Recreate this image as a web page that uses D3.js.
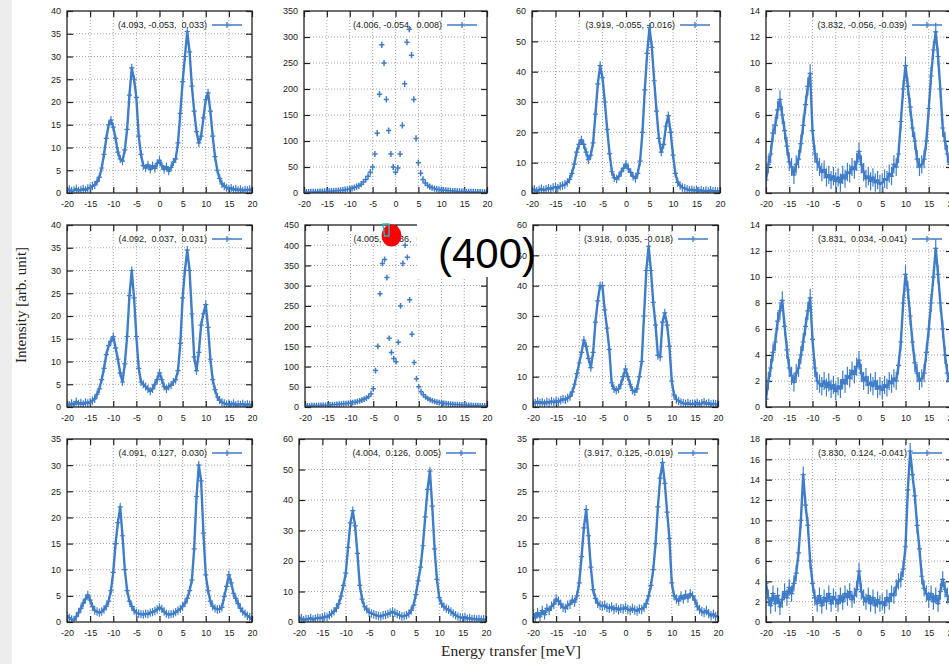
<!DOCTYPE html>
<html>
<head>
<meta charset="utf-8" />
<style>
body {
	margin: 0;
	background: #fff;
}
svg {
	display: block;
}
.tick text {
	font-family: "Liberation Sans", Arial, sans-serif;
	font-size: 9px;
}
.legend-label {
	font-family: "Liberation Sans", Arial, sans-serif;
	font-size: 9px;
	fill: #222;
	white-space: pre;
	text-anchor: end;
}
.axis-title {
	font-family: "Liberation Serif", "Times New Roman", serif;
	font-size: 15px;
	fill: #222;
	text-anchor: middle;
}
.grid line {
	stroke: #8f8f8f;
	stroke-width: 0.8;
	stroke-dasharray: 1,2;
}
</style>
</head>
<body>
<script src="https://d3js.org/d3.v7.min.js"></script>
<script>
// energy transfer grid [meV], shared by every panel
var energy = [-20, -19.5, -19, -18.5, -18, -17.5, -17, -16.5, -16, -15.5,
	-15, -14.5, -14, -13.5, -13, -12.5, -12, -11.5, -11, -10.5,
	-10, -9.5, -9, -8.5, -8, -7.5, -7, -6.5, -6, -5.5,
	-5, -4.5, -4, -3.5, -3, -2.5, -2, -1.5, -1, -0.5,
	0, 0.5, 1, 1.5, 2, 2.5, 3, 3.5, 4, 4.5,
	5, 5.5, 6, 6.5, 7, 7.5, 8, 8.5, 9, 9.5,
	10, 10.5, 11, 11.5, 12, 12.5, 13, 13.5, 14, 14.5,
	15, 15.5, 16, 16.5, 17, 17.5, 18, 18.5, 19, 19.5,
	20];

var xTicks = [-20, -15, -10, -5, 0, 5, 10, 15, 20];

var legends = ["(4.093, -0.053,  0.033)", "(4.006, -0.054,  0.008)", "(3.919, -0.055, -0.016)", "(3.832, -0.056, -0.039)",
	"(4.092,  0.037,  0.031)", "(4.005,  0.036,  0.007)", "(3.918,  0.035, -0.018)", "(3.831,  0.034, -0.041)",
	"(4.091,  0.127,  0.030)", "(4.004,  0.126,  0.005)", "(3.917,  0.125, -0.019)", "(3.830,  0.124, -0.041)"];

var yMax = [40, 350, 60, 14, 40, 450, 60, 14, 35, 60, 35, 18];
var yStep = [5, 50, 10, 2, 5, 50, 10, 2, 5, 10, 5, 2];

// typical error bar half-height
var errBar = [0.9, 6, 1.4, 0.7, 0.9, 7, 1.4, 0.7, 0.8, 1.4, 0.9, 0.8];

var int1 = [0.5, 0.8, 0.4, 0.6, 0.9, 0.5, 0.7, 0.9, 0.6, 1.0,
	1.2, 1.5, 1.8, 2.5, 3.5, 5.5, 8.5, 12.0, 15.0, 16.0,
	14.5, 12.0, 9.0, 7.5, 7.0, 9.5, 14.0, 21.5, 27.5, 25.0,
	21.0, 12.5, 8.5, 6.0, 5.5, 6.2, 5.2, 6.0, 5.4, 6.5,
	7.2, 6.0, 5.2, 5.8, 4.8, 5.6, 6.8, 7.5, 11.0, 17.5,
	24.5, 30.0, 35.5, 31.0, 23.5, 18.0, 13.5, 11.0, 12.5, 16.5,
	20.5, 22.0, 18.0, 12.5, 8.0, 5.0, 3.2, 2.0, 1.5, 1.2,
	0.9, 1.1, 0.7, 0.9, 0.6, 0.8, 0.5, 0.7, 0.6, 0.8,
	0.5];

var int2 = [1.5, 1.9, 1.7, 2.1, 2.0, 2.4, 2.3, 2.7, 2.6, 2.9,
	3.1, 3.2, 3.6, 3.8, 4.3, 4.4, 5.1, 5.4, 6.3, 6.9,
	8.0, 9.1, 10.4, 12.2, 13.8, 17.0, 21.0, 26.0, 32.0, 40.0,
	50, 75, 115, 190, 285, 250, 180, 120, 75, 50,
	40, 48, 75, 130, 210, 290, 315, 265, 180, 105,
	58, 38, 26, 19, 15, 12.2, 10.1, 8.6, 7.4, 6.6,
	6.0, 5.4, 5.1, 4.4, 4.1, 3.7, 3.6, 3.1, 3.0, 2.7,
	2.6, 2.4, 2.3, 2.1, 2.0, 1.8, 1.8, 1.6, 1.6, 1.4,
	1.5];

var int3 = [0.8, 1.2, 0.6, 1.0, 1.4, 0.9, 1.2, 1.6, 1.3, 1.8,
	2.0, 1.6, 2.2, 2.5, 2.8, 3.5, 4.5, 6.5, 9.5, 13.5,
	16.0, 17.5, 16.0, 13.5, 11.0, 12.5, 16.5, 26.0, 36.0, 42.0,
	38.0, 30.0, 21.0, 13.0, 7.0, 5.0, 4.6, 5.5, 7.0, 8.2,
	9.5, 8.0, 6.8, 5.5, 4.8, 6.5, 10.5, 20.0, 34.0, 46.0,
	54.5, 48.0, 37.0, 27.0, 18.0, 13.5, 16.0, 22.0, 25.5, 20.0,
	12.5, 6.5, 3.5, 2.5, 1.8, 1.5, 1.2, 0.9, 1.1, 0.8,
	1.0, 0.7, 0.9, 0.6, 0.8, 0.5, 0.9, 0.6, 0.7, 0.5,
	0.6];

var int4 = [1.0, 2.2, 3.0, 4.6, 5.2, 6.4, 7.2, 6.0, 4.8, 3.6,
	2.4, 2.0, 1.4, 2.2, 2.6, 3.8, 5.2, 6.8, 8.2, 9.2,
	4.8, 3.0, 2.4, 2.0, 1.6, 1.8, 1.2, 1.4, 1.0, 1.3,
	0.9, 1.2, 0.8, 1.4, 1.1, 1.6, 1.5, 2.0, 1.8, 2.4,
	3.2, 2.2, 1.6, 1.1, 1.3, 0.9, 1.2, 0.8, 1.0, 0.7,
	0.8, 1.1, 1.0, 1.5, 1.3, 2.2, 2.0, 3.0, 5.5, 8.0,
	9.8, 8.2, 6.6, 5.0, 4.0, 2.6, 2.0, 2.2, 2.6, 4.0,
	6.5, 9.0, 11.0, 12.4, 10.5, 8.0, 5.0, 4.0, 3.0, 2.2,
	1.6];

var int5 = [0.6, 0.4, 0.8, 0.5, 1.2, 0.7, 0.9, 0.6, 1.0, 0.8,
	1.1, 1.4, 1.8, 2.8, 4.0, 6.0, 8.5, 11.5, 13.5, 14.5,
	15.5, 13.0, 10.5, 7.5, 5.5, 9.5, 15.5, 24.5, 30.0, 24.0,
	15.5, 8.5, 5.5, 5.0, 4.5, 4.0, 3.5, 4.0, 5.0, 6.0,
	7.5, 6.0, 4.5, 4.0, 4.5, 4.8, 5.5, 6.0, 8.0, 14.0,
	24.0, 30.0, 34.5, 30.0, 20.5, 11.0, 8.0, 12.0, 18.0, 20.5,
	22.5, 17.5, 10.5, 6.0, 3.8, 2.2, 1.5, 1.0, 0.8, 0.6,
	0.7, 0.5, 0.8, 0.4, 0.6, 0.5, 0.7, 0.4, 0.6, 0.5,
	0.4];

var int6 = [2.5, 2.9, 2.8, 3.3, 3.4, 3.6, 3.9, 4.0, 4.4, 4.3,
	4.6, 5.1, 5.4, 6.2, 6.4, 7.1, 7.4, 8.2, 8.6, 9.3,
	10.0, 11.0, 12.0, 13.5, 15.0, 17.0, 19.5, 22.0, 26.0, 33.0,
	45, 90, 150, 280, 355, 365, 320, 170, 135, 120,
	112, 160, 250, 355, 400, 370, 265, 180, 110, 70,
	50, 38, 30, 25, 21, 18, 15.5, 13.5, 12.0, 11.0,
	10.0, 9.2, 8.6, 7.9, 7.3, 6.8, 6.2, 5.9, 5.4, 5.1,
	4.8, 4.5, 4.1, 3.9, 3.7, 3.4, 3.2, 3.1, 2.9, 2.8,
	2.6];

var int7 = [1.5, 1.2, 1.8, 1.3, 1.6, 1.1, 1.7, 1.4, 1.9, 1.5,
	2.0, 1.7, 2.2, 2.6, 2.4, 3.0, 3.5, 5.0, 7.5, 11.0,
	14.5, 18.0, 22.0, 20.0, 16.0, 13.0, 18.0, 28.0, 35.0, 40.0,
	40.0, 32.0, 26.0, 19.0, 8.0, 6.0, 5.5, 6.0, 7.5, 10.0,
	12.5, 10.0, 7.5, 5.5, 5.0, 6.0, 10.0, 15.0, 30.0, 45.0,
	53.0, 45.0, 34.5, 27.0, 17.0, 16.5, 28.0, 31.0, 27.0, 20.0,
	8.5, 4.0, 2.5, 2.0, 1.5, 1.2, 1.0, 1.3, 0.9, 1.1,
	1.0, 1.4, 0.8, 1.2, 1.6, 1.0, 1.3, 0.8, 1.1, 0.9,
	0.8];

var int8 = [0.6, 2.0, 3.0, 4.2, 5.0, 6.6, 7.4, 8.2, 6.2, 4.4,
	3.0, 2.4, 1.9, 2.6, 3.0, 4.0, 5.0, 6.2, 7.4, 8.4,
	5.2, 3.0, 2.0, 1.8, 1.6, 2.0, 1.5, 1.9, 1.4, 1.7,
	1.2, 1.6, 1.4, 2.1, 1.8, 2.4, 2.2, 2.8, 2.5, 3.1,
	3.6, 2.6, 2.0, 2.3, 1.7, 1.9, 1.6, 2.0, 1.4, 1.6,
	1.3, 1.7, 1.5, 2.0, 1.8, 2.2, 2.0, 3.2, 5.0, 8.0,
	10.2, 9.0, 7.0, 5.0, 3.4, 2.6, 2.0, 2.2, 2.6, 4.2,
	6.0, 8.0, 10.0, 12.2, 10.2, 8.0, 6.0, 4.0, 2.6, 2.0,
	1.5];

var int9 = [1.2, 0.8, 0.5, 0.4, 1.0, 1.8, 2.6, 3.6, 4.4, 5.2,
	4.2, 3.0, 2.2, 2.0, 1.8, 2.0, 2.4, 3.0, 4.0, 6.0,
	9.5, 15.0, 19.0, 22.0, 16.5, 10.0, 6.0, 4.0, 3.0, 2.2,
	1.8, 1.6, 1.5, 1.4, 1.6, 1.5, 1.8, 1.9, 2.1, 2.4,
	2.8, 2.5, 2.0, 1.6, 1.4, 1.5, 1.6, 1.9, 2.2, 2.5,
	3.0, 3.6, 4.5, 6.0, 8.0, 14.0, 24.0, 30.0, 27.0, 17.0,
	9.0, 6.0, 4.0, 3.0, 2.6, 2.4, 2.5, 2.8, 4.9, 6.8,
	9.0, 7.5, 5.5, 4.5, 3.5, 2.6, 2.0, 1.6, 1.2, 0.9,
	0.5];

var int10 = [0.8, 1.2, 0.6, 1.0, 0.9, 1.3, 0.8, 1.1, 1.4, 1.2,
	1.5, 1.8, 1.6, 2.2, 2.8, 3.5, 4.5, 6.0, 8.5, 12.0,
	16.0, 24.5, 32.5, 36.5, 31.5, 22.5, 12.0, 7.5, 5.0, 4.2,
	3.2, 2.8, 2.5, 2.2, 2.0, 1.8, 2.2, 2.4, 2.6, 3.0,
	3.4, 3.0, 2.6, 2.2, 1.8, 2.0, 2.2, 2.8, 3.8, 5.5,
	9.0, 13.5, 18.0, 25.0, 34.5, 43.5, 49.5, 38.0, 24.0, 14.0,
	8.0, 6.0, 5.0, 4.4, 4.0, 3.4, 2.8, 2.2, 1.8, 1.5,
	1.3, 1.6, 1.1, 1.3, 0.9, 1.1, 0.8, 1.0, 0.7, 0.9,
	0.6];

var int11 = [1.6, 0.8, 1.8, 1.0, 2.2, 1.4, 2.6, 2.2, 3.0, 3.4,
	4.4, 4.0, 3.4, 2.8, 2.6, 3.2, 3.4, 4.2, 3.8, 5.0,
	7.5, 12.5, 18.0, 21.5, 16.5, 10.5, 6.2, 4.5, 3.6, 3.2,
	3.0, 3.2, 2.8, 2.6, 2.9, 2.4, 2.7, 2.3, 2.6, 2.5,
	2.8, 2.4, 2.2, 2.6, 2.3, 2.1, 2.5, 2.4, 2.8, 3.5,
	5.0, 7.0, 10.0, 15.0, 22.0, 27.5, 30.5, 26.5, 21.0, 16.0,
	7.5, 5.0, 4.4, 4.0, 5.0, 4.4, 5.2, 4.6, 5.4, 5.0,
	4.2, 3.0, 2.4, 2.0, 1.8, 2.2, 1.6, 1.2, 1.5, 1.0,
	1.2];

var int12 = [3.8, 2.4, 1.6, 2.8, 1.8, 2.6, 1.5, 2.2, 3.0, 2.4,
	3.4, 2.8, 3.8, 4.8, 6.8, 10.0, 14.5, 11.5, 9.5, 6.0,
	3.8, 2.4, 1.8, 2.6, 1.6, 2.4, 2.0, 2.8, 1.8, 2.5,
	2.2, 1.8, 2.6, 2.0, 2.8, 2.4, 3.0, 2.2, 2.6, 3.2,
	5.0, 3.0, 2.4, 2.0, 2.6, 1.8, 2.4, 1.6, 2.2, 1.8,
	2.0, 1.6, 2.4, 2.0, 2.8, 2.6, 3.4, 4.0, 4.2, 5.2,
	7.4, 13.0, 16.8, 14.5, 12.4, 9.5, 7.2, 4.5, 3.3, 2.8,
	2.2, 2.8, 2.0, 2.6, 1.8, 3.0, 4.2, 3.2, 2.6, 2.0,
	2.2];

var intensities = [int1, int2, int3, int4, int5, int6, int7, int8, int9, int10, int11, int12];

// panel frames (rows x columns)
var frameLeft = [[67, 304, 532, 766], [67, 305, 533, 766], [67, 299, 533, 766]];
var frameRight = [[252, 487, 720, 952], [252, 487, 718, 952], [252, 486, 718, 952]];
var frameTop = [11, 225, 439];
var frameBottom = [193, 407, 622];
var joinPoints = [true, false, true, true, true, false, true, true, true, true, true, true];

var blue = "#3f7dc8";

var svg = d3.select("body").append("svg")
	.attr("width", 949)
	.attr("height", 664);

// greyish scan edge on the left
svg.append("rect")
	.attr("x", 0).attr("y", 0)
	.attr("width", 12).attr("height", 664)
	.attr("fill", "#ededed");

var plainNum = function(d) { return String(d); };

for (p = 0; p < 12; p++) {
	var r = Math.floor(p / 4), c = p % 4;
	var x0 = frameLeft[r][c], x1 = frameRight[r][c];
	var y0 = frameTop[r], y1 = frameBottom[r];

	var x = d3.scaleLinear().domain([-20, 20]).range([x0, x1]);
	var y = d3.scaleLinear().domain([0, yMax[p]]).range([y1, y0]);
	var yTicks = d3.range(0, yMax[p] + yStep[p] / 2, yStep[p]);

	var g = svg.append("g");

	svg.append("clipPath")
		.attr("id", "clip" + p)
		.append("rect")
			.attr("x", x0).attr("y", y0)
			.attr("width", x1 - x0).attr("height", y1 - y0);

	// dotted grid
	var grid = g.append("g").attr("class", "grid");
	for (i = 1; i < xTicks.length - 1; i++) {
		grid.append("line")
			.attr("x1", x(xTicks[i])).attr("x2", x(xTicks[i]))
			.attr("y1", y0).attr("y2", y1);
	}
	for (i = 1; i < yTicks.length - 1; i++) {
		grid.append("line")
			.attr("x1", x0).attr("x2", x1)
			.attr("y1", y(yTicks[i])).attr("y2", y(yTicks[i]));
	}

	// axes, ticks pointing inwards on all four sides
	g.append("g")
		.attr("transform", "translate(0," + y1 + ")")
		.call(d3.axisBottom(x).tickValues(xTicks).tickSize(-6).tickPadding(8).tickFormat(plainNum));
	g.append("g")
		.attr("transform", "translate(0," + y0 + ")")
		.call(d3.axisTop(x).tickValues(xTicks).tickSize(-6).tickFormat(""));
	g.append("g")
		.attr("transform", "translate(" + x0 + ",0)")
		.call(d3.axisLeft(y).tickValues(yTicks).tickSize(-6).tickPadding(6).tickFormat(plainNum));
	g.append("g")
		.attr("transform", "translate(" + x1 + ",0)")
		.call(d3.axisRight(y).tickValues(yTicks).tickSize(-6).tickFormat(""));
	g.selectAll(".domain").remove();
	g.selectAll(".tick line").attr("stroke", "#222").attr("stroke-width", 1.2);
	g.selectAll(".tick text").attr("fill", "#222");

	// key
	var ky = y0 + 14;
	g.append("text")
		.attr("class", "legend-label")
		.attr("x", x1 - 45)
		.attr("y", ky + 3)
		.text(legends[p]);
	g.append("path")
		.attr("d", "M" + (x1 - 40) + "," + ky + "H" + (x1 - 10) +
			"M" + (x1 - 25) + "," + (ky - 3) + "V" + (ky + 3))
		.attr("stroke", blue)
		.attr("stroke-width", 1.3)
		.attr("fill", "none");

	// data
	var vals = intensities[p];
	var dg = g.append("g").attr("clip-path", "url(#clip" + p + ")");
	if (joinPoints[p]) {
		dg.append("path")
			.attr("d", d3.line().x(function(d, k) { return x(energy[k]); }).y(function(d) { return y(d); })(vals))
			.attr("fill", "none")
			.attr("stroke", blue)
			.attr("stroke-width", 2.4)
			.attr("stroke-linejoin", "round");
	}
	var marks = "";
	for (i = 0; i < vals.length; i++) {
		var px = x(energy[i]), py = y(vals[i]);
		var ehi = y(vals[i] + errBar[p]), elo = y(Math.max(vals[i] - errBar[p], 0));
		marks += "M" + (px - 2.6) + "," + py + "h5.2";
		marks += "M" + px + "," + ehi + "V" + elo;
	}
	dg.append("path")
		.attr("d", marks)
		.attr("fill", "none")
		.attr("stroke", blue)
		.attr("stroke-width", joinPoints[p] ? 1.2 : 1.5);

	// frame
	g.append("rect")
		.attr("x", x0).attr("y", y0)
		.attr("width", x1 - x0).attr("height", y1 - y0)
		.attr("fill", "none")
		.attr("stroke", "#222")
		.attr("stroke-width", 1.3);
}

// axis titles
svg.append("text")
	.attr("class", "axis-title")
	.attr("transform", "translate(26,305) rotate(-90)")
	.text("Intensity [arb. unit]");
svg.append("text")
	.attr("class", "axis-title")
	.attr("x", 511)
	.attr("y", 656)
	.style("font-size", "15.5px")
	.text("Energy transfer [meV]");

// annotation pasted over the middle panel
svg.append("rect")
	.attr("x", 417).attr("y", 211)
	.attr("width", 95).attr("height", 66)
	.attr("fill", "#fff");
svg.append("text")
	.attr("x", 438)
	.attr("y", 268)
	.attr("font-family", "Liberation Sans, Arial, sans-serif")
	.attr("font-size", 42)
	.attr("fill", "#000")
	.text("(400)");
svg.append("ellipse")
	.attr("cx", 391.5).attr("cy", 235.5)
	.attr("rx", 10).attr("ry", 11)
	.attr("fill", "#f00");
svg.append("path")
	.attr("d", "M383,224L389,224L389,236L384.5,236Z")
	.attr("fill", "none")
	.attr("stroke", "#2ab7c9")
	.attr("stroke-width", 1.4);

</script>
</body>
</html>
